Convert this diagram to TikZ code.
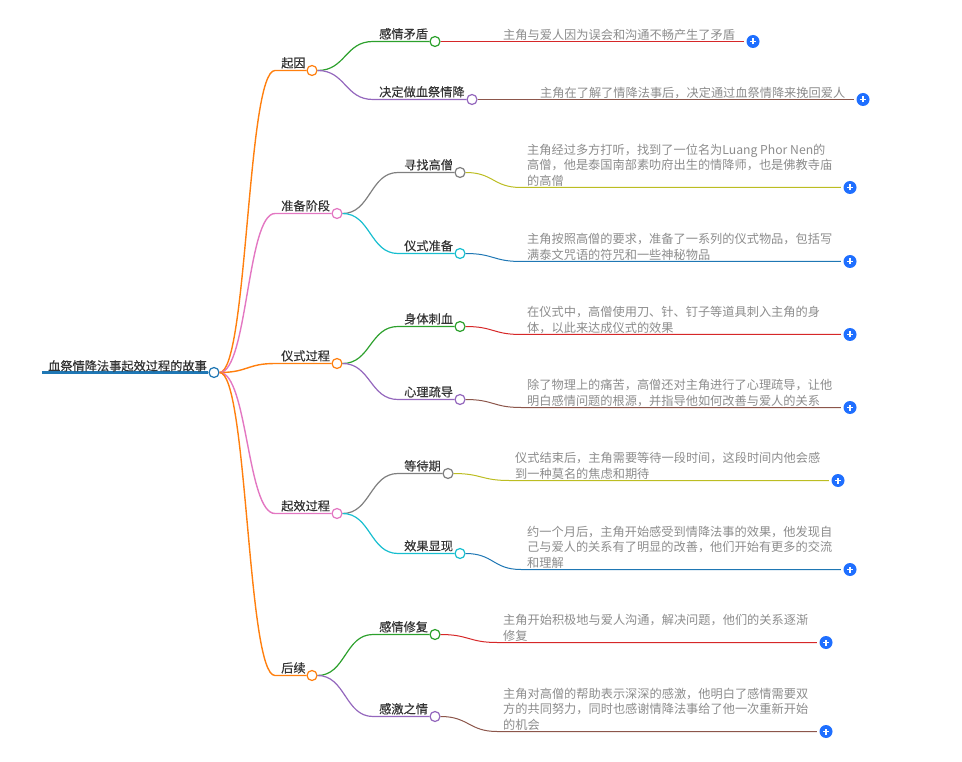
\documentclass[tikz,border=0pt]{standalone}
\usepackage{fontspec}
\setmainfont{Noto Sans CJK SC}
\newfontfamily\titlefont[FakeBold=0.3]{Noto Sans CJK SC}
\definecolor{cblue}{HTML}{1F77B4}
\definecolor{corange}{HTML}{FF7F0E}
\definecolor{cgreen}{HTML}{2CA02C}
\definecolor{cred}{HTML}{D62728}
\definecolor{cpurple}{HTML}{9467BD}
\definecolor{cbrown}{HTML}{8C564B}
\definecolor{cpink}{HTML}{E377C2}
\definecolor{cgray}{HTML}{7F7F7F}
\definecolor{colive}{HTML}{BCBD22}
\definecolor{ccyan}{HTML}{17BECF}
\definecolor{cplus}{HTML}{1F6FFF}
\tikzset{
    dot/.style={circle,draw,fill=white,inner sep=0pt,minimum size=10pt,line width=1.2pt},
    plusdot/.style={circle,fill=cplus,inner sep=0pt,minimum size=13pt,
        path picture={\draw[white,line width=1.1pt]
            ([xshift=-3pt]path picture bounding box.center) -- ([xshift=3pt]path picture bounding box.center)
            ([yshift=-3pt]path picture bounding box.center) -- ([yshift=3pt]path picture bounding box.center);}},
    title/.style={anchor=base west,inner sep=0pt,yshift=-1pt,text=black!80,font=\titlefont\fontsize{12.2}{16}\selectfont},
    leaf/.style={anchor=south west,inner sep=0pt,align=left,text=black!45,text depth=2pt,font=\fontsize{12.2}{15.5}\selectfont},
    firstlink/.style={line width=1.4pt},
    secondlink/.style={line width=1.2pt},
    thirdlink/.style={line width=1pt,shorten >=2.5pt},
}
\begin{document}
\begin{tikzpicture}[x=1pt,y=-1pt]
    \useasboundingbox (0,-0.5) rectangle (962,761.5);
    % root
    \coordinate (rootstart) at (42,372);
    \node[dot,draw=cblue] (root) at (214,372) {};
    \draw[cblue,line width=3pt] (rootstart) -- (root);
    \node[title] (roottext) at (48,369) {血祭情降法事起效过程的故事};
    % first level
    \coordinate (qiyinstart) at (275,70);
    \coordinate (zhunbeistart) at (275,213);
    \coordinate (yishistart) at (275,363);
    \coordinate (qixiaostart) at (275,513);
    \coordinate (houxustart) at (275,675);
    \node[dot,draw=corange] (qiyin) at (312,70) {};
    \node[dot,draw=cpink] (zhunbei) at (337,213) {};
    \node[dot,draw=corange] (yishi) at (337,363) {};
    \node[dot,draw=cpink] (qixiao) at (337,513) {};
    \node[dot,draw=corange] (houxu) at (312,675) {};
    \node[title] (qiyintext) at (281,66) {起因};
    \node[title] (zhunbeitext) at (281,209) {准备阶段};
    \node[title] (yishitext) at (281,359) {仪式过程};
    \node[title] (qixiaotext) at (281,509) {起效过程};
    \node[title] (houxutext) at (281,671) {后续};
    \draw[firstlink,corange] (root.east) .. controls +(28,0) and +(-28,0) .. (qiyinstart) -- (qiyin);
    \draw[firstlink,cpink] (root.east) .. controls +(28,0) and +(-28,0) .. (zhunbeistart) -- (zhunbei);
    \draw[firstlink,corange] (root.east) .. controls +(28,0) and +(-28,0) .. (yishistart) -- (yishi);
    \draw[firstlink,cpink] (root.east) .. controls +(28,0) and +(-28,0) .. (qixiaostart) -- (qixiao);
    \draw[firstlink,corange] (root.east) .. controls +(28,0) and +(-28,0) .. (houxustart) -- (houxu);
    % second level
    \coordinate (maodunstart) at (373,41);
    \coordinate (juedingstart) at (373,99);
    \coordinate (xunzhaostart) at (398,172);
    \coordinate (zhunstart) at (398,253);
    \coordinate (cixuestart) at (398,326);
    \coordinate (shudaostart) at (398,399);
    \coordinate (dengstart) at (398,473);
    \coordinate (xianstart) at (398,553);
    \coordinate (xiufustart) at (373,634);
    \coordinate (ganjistart) at (373,716);
    \node[dot,draw=cgreen] (maodun) at (435,41) {};
    \node[dot,draw=cpurple] (jueding) at (472,99) {};
    \node[dot,draw=cgray] (xunzhao) at (460,172) {};
    \node[dot,draw=ccyan] (zhun) at (460,253) {};
    \node[dot,draw=cgreen] (cixue) at (460,326) {};
    \node[dot,draw=cpurple] (shudao) at (460,399) {};
    \node[dot,draw=cgray] (deng) at (448,473) {};
    \node[dot,draw=ccyan] (xian) at (460,553) {};
    \node[dot,draw=cgreen] (xiufu) at (435,634) {};
    \node[dot,draw=cpurple] (ganji) at (435,716) {};
    \node[title] (maoduntext) at (379,37) {感情矛盾};
    \node[title] (juedingtext) at (379,95) {决定做血祭情降};
    \node[title] (xunzhaotext) at (404,168) {寻找高僧};
    \node[title] (zhuntext) at (404,249) {仪式准备};
    \node[title] (cixuetext) at (404,322) {身体刺血};
    \node[title] (shudaotext) at (404,395) {心理疏导};
    \node[title] (dengtext) at (404,469) {等待期};
    \node[title] (xiantext) at (404,549) {效果显现};
    \node[title] (xiufutext) at (379,630) {感情修复};
    \node[title] (ganjitext) at (379,712) {感激之情};
    \draw[secondlink,cgreen] (qiyin.east) .. controls +(28,0) and +(-28,0) .. (maodunstart) -- (maodun);
    \draw[secondlink,cpurple] (qiyin.east) .. controls +(28,0) and +(-28,0) .. (juedingstart) -- (jueding);
    \draw[secondlink,cgray] (zhunbei.east) .. controls +(28,0) and +(-28,0) .. (xunzhaostart) -- (xunzhao);
    \draw[secondlink,ccyan] (zhunbei.east) .. controls +(28,0) and +(-28,0) .. (zhunstart) -- (zhun);
    \draw[secondlink,cgreen] (yishi.east) .. controls +(28,0) and +(-28,0) .. (cixuestart) -- (cixue);
    \draw[secondlink,cpurple] (yishi.east) .. controls +(28,0) and +(-28,0) .. (shudaostart) -- (shudao);
    \draw[secondlink,cgray] (qixiao.east) .. controls +(28,0) and +(-28,0) .. (dengstart) -- (deng);
    \draw[secondlink,ccyan] (qixiao.east) .. controls +(28,0) and +(-28,0) .. (xianstart) -- (xian);
    \draw[secondlink,cgreen] (houxu.east) .. controls +(28,0) and +(-28,0) .. (xiufustart) -- (xiufu);
    \draw[secondlink,cpurple] (houxu.east) .. controls +(28,0) and +(-28,0) .. (ganjistart) -- (ganji);
    % third level
    \coordinate (leafastart) at (497,41);
    \coordinate (leafbstart) at (534,99);
    \coordinate (leafcstart) at (521,187);
    \coordinate (leafdstart) at (521,261);
    \coordinate (leafestart) at (521,334);
    \coordinate (leaffstart) at (521,407);
    \coordinate (leafgstart) at (509,480);
    \coordinate (leafhstart) at (521,569);
    \coordinate (leafistart) at (497,642);
    \coordinate (leafjstart) at (497,731);
    \node[plusdot] (plusa) at (753,41) {};
    \node[plusdot] (plusb) at (863,99) {};
    \node[plusdot] (plusc) at (850,187) {};
    \node[plusdot] (plusd) at (850,261) {};
    \node[plusdot] (pluse) at (850,334) {};
    \node[plusdot] (plusf) at (850,407) {};
    \node[plusdot] (plusg) at (838,480) {};
    \node[plusdot] (plush) at (850,569) {};
    \node[plusdot] (plusi) at (826,642) {};
    \node[plusdot] (plusj) at (826,731) {};
    \draw[thirdlink,cred] (maodun.east) -- (leafastart) -- (plusa);
    \draw[thirdlink,cbrown] (jueding.east) -- (leafbstart) -- (plusb);
    \draw[thirdlink,colive] (xunzhao.east) .. controls +(28,0) and +(-28,0) .. (leafcstart) -- (plusc);
    \draw[thirdlink,cblue] (zhun.east) .. controls +(28,0) and +(-28,0) .. (leafdstart) -- (plusd);
    \draw[thirdlink,cred] (cixue.east) .. controls +(28,0) and +(-28,0) .. (leafestart) -- (pluse);
    \draw[thirdlink,cbrown] (shudao.east) .. controls +(28,0) and +(-28,0) .. (leaffstart) -- (plusf);
    \draw[thirdlink,colive] (deng.east) .. controls +(28,0) and +(-28,0) .. (leafgstart) -- (plusg);
    \draw[thirdlink,cblue] (xian.east) .. controls +(28,0) and +(-28,0) .. (leafhstart) -- (plush);
    \draw[thirdlink,cred] (xiufu.east) .. controls +(28,0) and +(-28,0) .. (leafistart) -- (plusi);
    \draw[thirdlink,cbrown] (ganji.east) .. controls +(28,0) and +(-28,0) .. (leafjstart) -- (plusj);
    \node[leaf] (leafa) at (503,41) {主角与爱人因为误会和沟通不畅产生了矛盾};
    \node[leaf] (leafb) at (540,99) {主角在了解了情降法事后，决定通过血祭情降来挽回爱人};
    \node[leaf] (leafc) at (527,187) {主角经过多方打听，找到了一位名为Luang Phor Nen的\\高僧，他是泰国南部素叻府出生的情降师，也是佛教寺庙\\的高僧};
    \node[leaf] (leafd) at (527,261) {主角按照高僧的要求，准备了一系列的仪式物品，包括写\\满泰文咒语的符咒和一些神秘物品};
    \node[leaf] (leafe) at (527,334) {在仪式中，高僧使用刀、针、钉子等道具刺入主角的身\\体，以此来达成仪式的效果};
    \node[leaf] (leaff) at (527,407) {除了物理上的痛苦，高僧还对主角进行了心理疏导，让他\\明白感情问题的根源，并指导他如何改善与爱人的关系};
    \node[leaf] (leafg) at (515,480) {仪式结束后，主角需要等待一段时间，这段时间内他会感\\到一种莫名的焦虑和期待};
    \node[leaf] (leafh) at (527,569) {约一个月后，主角开始感受到情降法事的效果，他发现自\\己与爱人的关系有了明显的改善，他们开始有更多的交流\\和理解};
    \node[leaf] (leafi) at (503,642) {主角开始积极地与爱人沟通，解决问题，他们的关系逐渐\\修复};
    \node[leaf] (leafj) at (503,731) {主角对高僧的帮助表示深深的感激，他明白了感情需要双\\方的共同努力，同时也感谢情降法事给了他一次重新开始\\的机会};
\end{tikzpicture}
\end{document}
